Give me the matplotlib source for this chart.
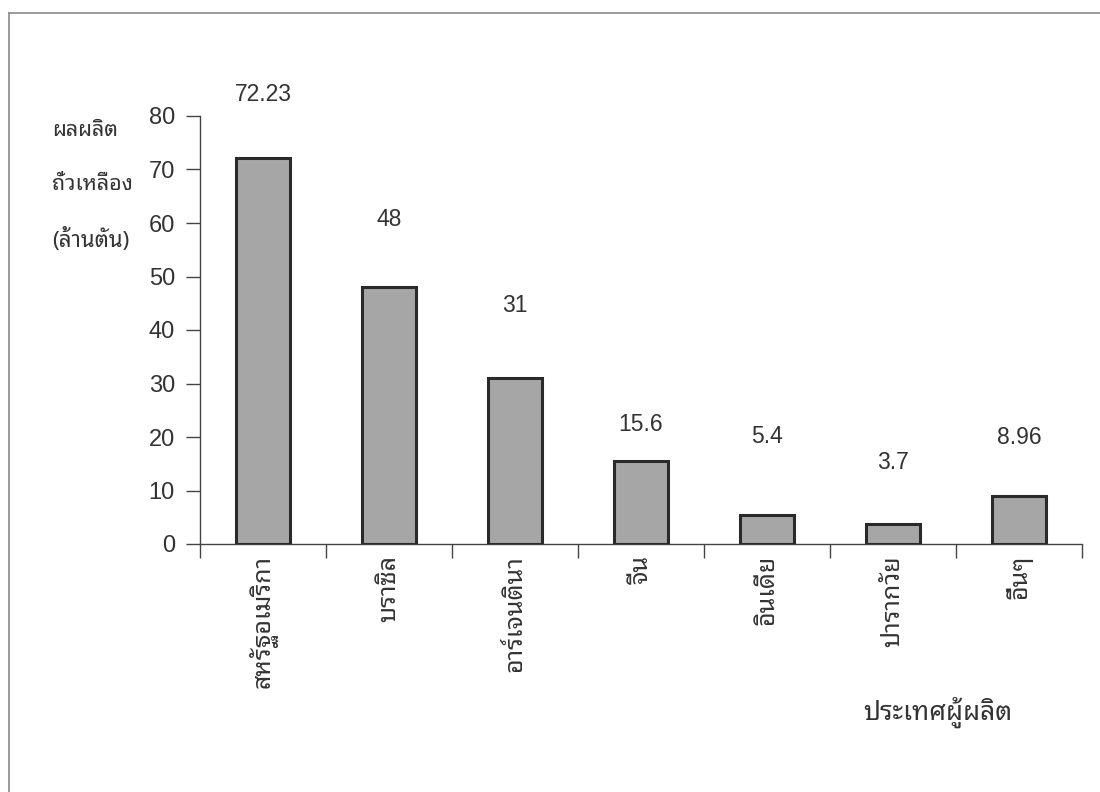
import matplotlib
matplotlib.use("Agg")
import matplotlib.pyplot as plt
from matplotlib.lines import Line2D

# data
countries = ["สหรัฐอเมริกา", "บราซิล", "อาร์เจนตินา", "จีน", "อินเดีย", "ปารากวัย", "อื่นๆ"]
production = [72.23, 48, 31, 15.6, 5.4, 3.7, 8.96]
value_text = ["72.23", "48", "31", "15.6", "5.4", "3.7", "8.96"]

# where the value labels sit (chart layout, not data)
label_y = [84.0, 60.6, 44.6, 22.4, 20.1, 15.3, 20.0]

THAI = ["Noto Sans Thai Looped", "DejaVu Sans"]
NUM = ["Liberation Sans", "Noto Sans Thai Looped", "DejaVu Sans"]
TXT = "#333333"

fig = plt.figure(figsize=(11, 7.92), dpi=100)
W, H = 1100, 792
ax = fig.add_axes([200 / W, 1 - 544 / H, (1082 - 200) / W, (544 - 116) / H])

x = [i + 0.5 for i in range(len(countries))]
ax.bar(x, production, width=0.43, color="#a6a6a6", edgecolor="#2a2a2a",
       linewidth=2.2, zorder=3)

for xi, yi, t in zip(x, label_y, value_text):
    ax.text(xi, yi, t, ha="center", va="center", fontsize=16.5, color=TXT,
            family=NUM, clip_on=False)

ax.set_xlim(0, len(countries))
ax.set_ylim(0, 80)
ax.set_yticks(range(0, 81, 10))
ax.set_yticklabels([str(v) for v in range(0, 81, 10)], family=NUM, fontsize=17, color=TXT)
ax.set_xticks(range(len(countries) + 1))
ax.set_xticklabels([])
ax.set_xticks(x, minor=True)
ax.set_xticklabels(countries, minor=True, rotation=90, va="top", ha="center",
                   family=THAI, fontsize=18, color=TXT, fontweight="light")
ax.tick_params(axis="x", which="minor", length=0, pad=8)
ax.tick_params(axis="x", which="major", length=10, width=1, color="#444444", direction="out")
ax.tick_params(axis="y", length=10, width=1, color="#444444", direction="out", pad=8)

for s in ["top", "right"]:
    ax.spines[s].set_visible(False)
for s in ["left", "bottom"]:
    ax.spines[s].set_color("#444444")
    ax.spines[s].set_linewidth(1)

# y title, three lines at top left
fig.text(52 / W, 1 - 130 / H, "ผลผลิต", family=THAI, fontsize=15.5, color=TXT, va="center")
fig.text(52 / W, 1 - 185 / H, "ถั่วเหลือง", family=THAI, fontsize=15.5, color=TXT, va="center")
fig.text(52 / W, 1 - 240 / H, "(ล้านตัน)", family=THAI, fontsize=16, color=TXT, va="center")

# x title
fig.text(938 / W, 1 - 712 / H, "ประเทศผู้ผลิต", family=THAI, fontsize=19, color=TXT,
         ha="center", va="center")

# page frame (top and left edges)
fig.add_artist(Line2D([9 / W, 1], [1 - 13 / H, 1 - 13 / H], color="#8a8a8a", lw=1.2))
fig.add_artist(Line2D([9 / W, 9 / W], [0, 1 - 13 / H], color="#8a8a8a", lw=1.2))

fig.savefig("out.png", dpi=100)
